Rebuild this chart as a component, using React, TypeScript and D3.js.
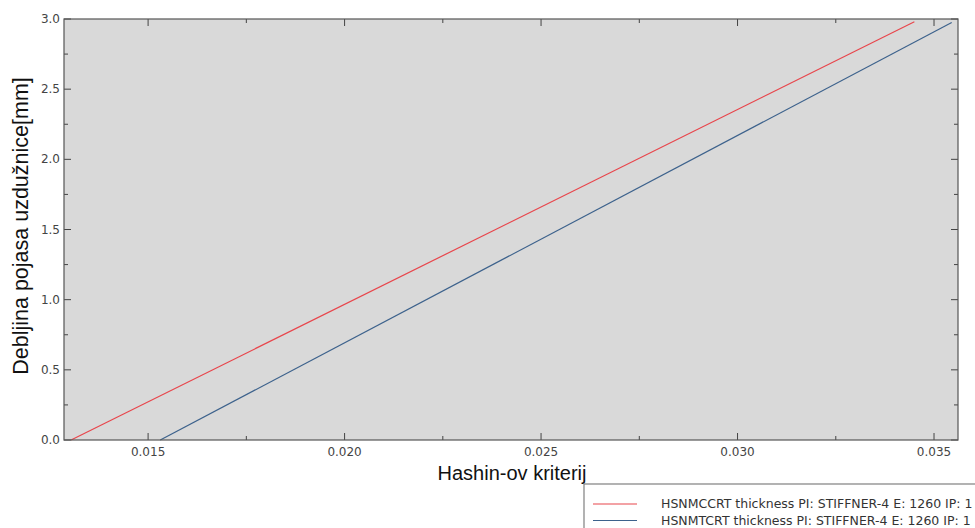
import React from "react";
import * as d3 from "d3";

const redSeries = [
  { x: 0.01304, y: 0.0 },
  { x: 0.0345, y: 2.98 },
];
const blueSeries = [
  { x: 0.01531, y: 0.0 },
  { x: 0.03545, y: 2.975 },
];
const xMajorTicks = [0.015, 0.02, 0.025, 0.03, 0.035];
const xMinorTicks = [0.0175, 0.0225, 0.0275, 0.0325];
const yMajorTicks = [0, 0.5, 1.0, 1.5, 2.0, 2.5, 3.0];
const yMinorTicks = [0.25, 0.75, 1.25, 1.75, 2.25, 2.75];
const legendLabels = [
  "HSNMCCRT thickness PI: STIFFNER-4 E: 1260 IP: 1",
  "HSNMTCRT thickness PI: STIFFNER-4 E: 1260 IP: 1",
];
const xTitle = "Hashin-ov kriterij";
const yTitle = "Debljina pojasa uzdužnice[mm]";

const W = 975;
const H = 528;
const L = 64;
const R = 958;
const T = 19;
const B = 440;
const RED = "#e8464c";
const BLUE = "#3d628c";

export default function App() {
  const x = d3.scaleLinear().domain([0.01286, 0.03561]).range([L, R]);
  const y = d3.scaleLinear().domain([0, 3]).range([B, T]);
  const line = d3
    .line<{ x: number; y: number }>()
    .x((d) => x(d.x))
    .y((d) => y(d.y));
  const tickColor = "#444";
  const labelFont = "'DejaVu Sans', Verdana, sans-serif";
  const titleFont = "'Liberation Sans', Arial, sans-serif";
  return (
    <svg
      width={W}
      height={H}
      style={{ position: "absolute", left: 0, top: 0, display: "block", background: "#fff" }}
    >
      <rect x={L} y={T} width={R - L} height={B - T} fill="#d9d9d9" />
      <path d={line(redSeries) || ""} fill="none" stroke={RED} strokeWidth={1.2} />
      <path d={line(blueSeries) || ""} fill="none" stroke={BLUE} strokeWidth={1.2} />
      {xMajorTicks.map((t) => (
        <g key={"xm" + t}>
          <line x1={x(t)} x2={x(t)} y1={B} y2={B - 7} stroke={tickColor} />
          <line x1={x(t)} x2={x(t)} y1={T} y2={T + 7} stroke={tickColor} />
          <text
            x={x(t)}
            y={B + 16}
            textAnchor="middle"
            fontFamily={labelFont}
            fontSize={12}
            fill="#444"
          >
            {d3.format(".3f")(t)}
          </text>
        </g>
      ))}
      {xMinorTicks.map((t) => (
        <g key={"xn" + t}>
          <line x1={x(t)} x2={x(t)} y1={B} y2={B - 4} stroke={tickColor} />
          <line x1={x(t)} x2={x(t)} y1={T} y2={T + 4} stroke={tickColor} />
        </g>
      ))}
      {yMajorTicks.map((t) => (
        <g key={"ym" + t}>
          <line x1={L} x2={L + 7} y1={y(t)} y2={y(t)} stroke={tickColor} />
          <line x1={R} x2={R - 7} y1={y(t)} y2={y(t)} stroke={tickColor} />
          <text
            x={L - 4}
            y={y(t) + 4}
            textAnchor="end"
            fontFamily={labelFont}
            fontSize={12}
            fill="#444"
          >
            {d3.format(".1f")(t)}
          </text>
        </g>
      ))}
      {yMinorTicks.map((t) => (
        <g key={"yn" + t}>
          <line x1={L} x2={L + 4} y1={y(t)} y2={y(t)} stroke={tickColor} />
          <line x1={R} x2={R - 4} y1={y(t)} y2={y(t)} stroke={tickColor} />
        </g>
      ))}
      <rect x={L} y={T} width={R - L} height={B - T} fill="none" stroke="#555" strokeWidth={1.2} />
      <text
        x={512}
        y={480}
        textAnchor="middle"
        fontFamily={titleFont}
        fontSize={20}
        fill="#111"
      >
        {xTitle}
      </text>
      <text
        transform={`translate(28, 226) rotate(-90)`}
        textAnchor="middle"
        fontFamily={titleFont}
        fontSize={21.5}
        fill="#111"
      >
        {yTitle}
      </text>
      <rect x={584} y={484} width={400} height={60} fill="#fff" stroke="#808080" strokeWidth={1.2} />
      {legendLabels.map((lab, i) => (
        <g key={lab}>
          <line
            x1={593}
            x2={637}
            y1={504 + i * 16.5}
            y2={504 + i * 16.5}
            stroke={i === 0 ? RED : BLUE}
            strokeWidth={1.2}
          />
          <text
            x={661}
            y={508 + i * 16.5}
            fontFamily={labelFont}
            fontSize={12.5}
            fill="#333"
          >
            {lab}
          </text>
        </g>
      ))}
    </svg>
  );
}
